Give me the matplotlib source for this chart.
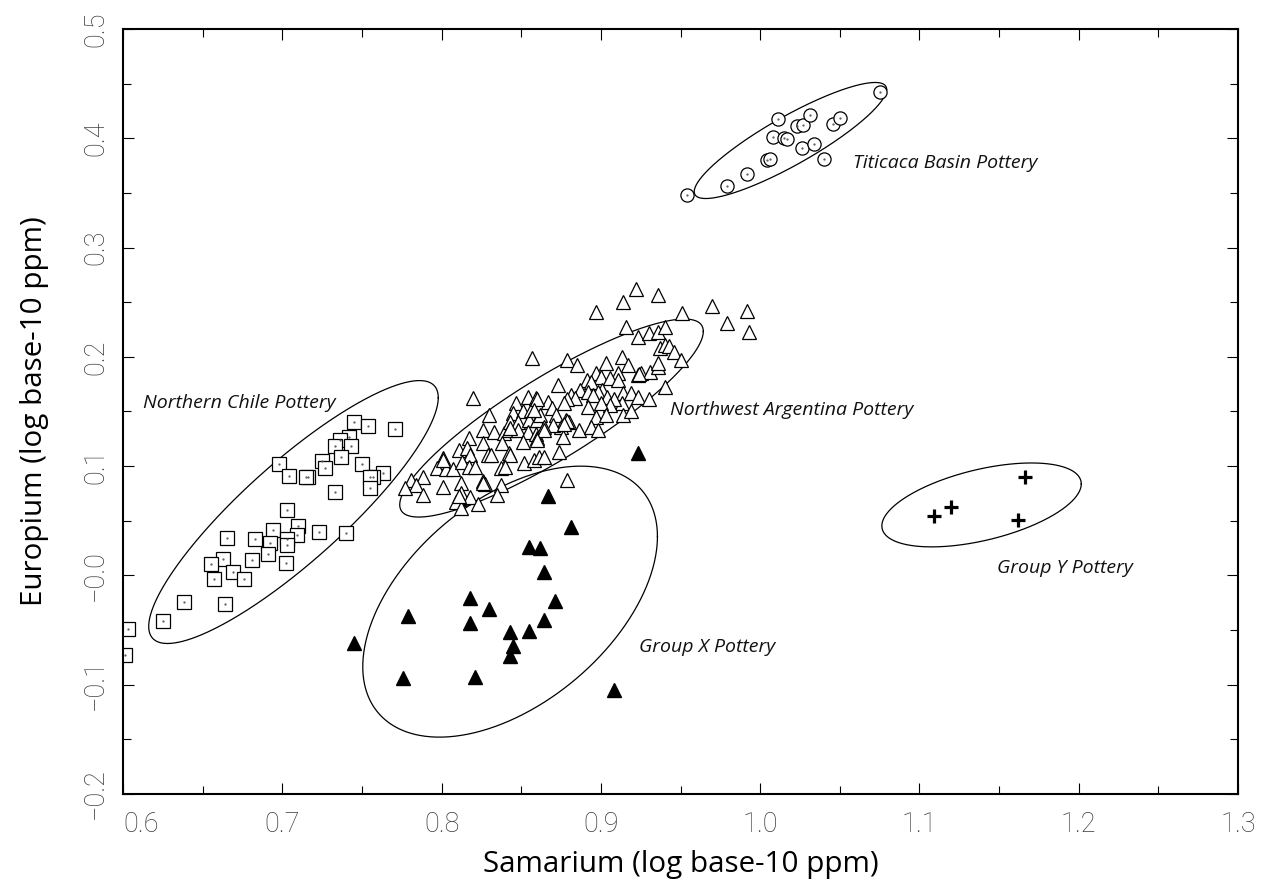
import numpy as np
import matplotlib.pyplot as plt
from matplotlib.ticker import FixedLocator, FixedFormatter, MultipleLocator

# Samarium vs europium (log10 ppm) for each ceramic compositional group

chile_sm = [0.745, 0.754, 0.771, 0.742, 0.736, 0.743, 0.733, 0.737, 0.698, 0.725,
            0.727, 0.750, 0.763, 0.757, 0.755, 0.704, 0.716, 0.715, 0.755, 0.733,
            0.703, 0.710, 0.709, 0.694, 0.683, 0.703, 0.703, 0.692, 0.723, 0.740,
            0.665, 0.663, 0.681, 0.655, 0.691, 0.702, 0.669, 0.676, 0.657, 0.638,
            0.664, 0.625, 0.603, 0.601]
chile_eu = [0.140, 0.137, 0.134, 0.127, 0.124, 0.118, 0.118, 0.108, 0.102, 0.105,
            0.098, 0.102, 0.094, 0.090, 0.090, 0.091, 0.090, 0.090, 0.080, 0.076,
            0.060, 0.045, 0.037, 0.042, 0.033, 0.033, 0.028, 0.030, 0.040, 0.039,
            0.034, 0.015, 0.014, 0.010, 0.020, 0.011, 0.003, -0.003, -0.003, -0.024,
            -0.026, -0.042, -0.049, -0.073]

argentina_sm = [0.820, 0.830, 0.817, 0.826, 0.833, 0.839, 0.847, 0.854, 0.859, 0.845,
                0.851, 0.856, 0.843, 0.848, 0.855, 0.860, 0.842, 0.848, 0.854, 0.859,
                0.851, 0.860, 0.826, 0.838, 0.842, 0.843, 0.829, 0.831, 0.811, 0.816,
                0.818, 0.801, 0.801, 0.797, 0.803, 0.807, 0.813, 0.817, 0.821, 0.837,
                0.840, 0.852, 0.858, 0.826, 0.827, 0.837, 0.812, 0.801, 0.788, 0.781,
                0.784, 0.777, 0.788, 0.812, 0.811, 0.809, 0.818, 0.835, 0.823, 0.812,
                0.916, 0.923, 0.930, 0.936, 0.857, 0.879, 0.885, 0.913, 0.903, 0.917,
                0.911, 0.923, 0.925, 0.931, 0.936, 0.897, 0.900, 0.891, 0.894, 0.906,
                0.911, 0.873, 0.901, 0.898, 0.904, 0.887, 0.892, 0.895, 0.881, 0.884,
                0.914, 0.919, 0.923, 0.930, 0.913, 0.908, 0.906, 0.900, 0.879, 0.877,
                0.867, 0.860, 0.869, 0.872, 0.862, 0.858, 0.892, 0.897, 0.903, 0.914,
                0.919, 0.878, 0.880, 0.875, 0.876, 0.886, 0.894, 0.898, 0.870, 0.864,
                0.864, 0.860, 0.874, 0.861, 0.864, 0.937, 0.936, 0.936, 0.951, 0.970,
                0.992, 0.979, 0.993, 0.940, 0.940, 0.943, 0.946, 0.950, 0.940, 0.922,
                0.914, 0.897, 0.879, 0.879, 0.877, 0.924, 0.801, 0.826, 0.843, 0.811]
argentina_eu = [0.162, 0.147, 0.126, 0.133, 0.131, 0.130, 0.158, 0.163, 0.162, 0.149,
                0.150, 0.151, 0.140, 0.140, 0.142, 0.142, 0.133, 0.133, 0.131, 0.129,
                0.122, 0.126, 0.121, 0.121, 0.112, 0.110, 0.110, 0.110, 0.115, 0.117,
                0.110, 0.107, 0.104, 0.098, 0.097, 0.097, 0.104, 0.099, 0.099, 0.098,
                0.099, 0.103, 0.106, 0.086, 0.084, 0.083, 0.085, 0.081, 0.090, 0.087,
                0.083, 0.080, 0.074, 0.075, 0.071, 0.067, 0.072, 0.074, 0.065, 0.062,
                0.227, 0.218, 0.222, 0.223, 0.199, 0.197, 0.193, 0.200, 0.194, 0.193,
                0.185, 0.183, 0.185, 0.186, 0.191, 0.185, 0.182, 0.179, 0.177, 0.181,
                0.179, 0.174, 0.170, 0.168, 0.163, 0.170, 0.168, 0.165, 0.165, 0.162,
                0.167, 0.167, 0.163, 0.161, 0.158, 0.161, 0.156, 0.158, 0.161, 0.158,
                0.159, 0.161, 0.153, 0.147, 0.147, 0.151, 0.154, 0.145, 0.147, 0.147,
                0.150, 0.142, 0.140, 0.136, 0.127, 0.133, 0.136, 0.133, 0.138, 0.136,
                0.133, 0.124, 0.113, 0.108, 0.108, 0.208, 0.194, 0.257, 0.240, 0.247,
                0.242, 0.231, 0.223, 0.227, 0.211, 0.210, 0.204, 0.197, 0.172, 0.262,
                0.250, 0.241, 0.087, 0.141, 0.139, 0.184, 0.106, 0.085, 0.135, 0.073]

titicaca_sm = [0.954, 0.979, 0.992, 1.004, 1.006, 1.008, 1.011, 1.015, 1.017, 1.023,
               1.027, 1.031, 1.026, 1.034, 1.040, 1.046, 1.050, 1.075]
titicaca_eu = [0.348, 0.356, 0.367, 0.380, 0.381, 0.401, 0.418, 0.400, 0.399, 0.411,
               0.412, 0.421, 0.391, 0.395, 0.381, 0.413, 0.419, 0.442]

group_x_sm = [0.923, 0.867, 0.881, 0.855, 0.862, 0.864, 0.871, 0.818, 0.830, 0.779,
              0.818, 0.864, 0.843, 0.855, 0.845, 0.843, 0.776, 0.821, 0.908, 0.745]
group_x_eu = [0.112, 0.073, 0.044, 0.026, 0.025, 0.003, -0.023, -0.021, -0.031, -0.037,
              -0.044, -0.041, -0.052, -0.051, -0.065, -0.074, -0.094, -0.093, -0.105, -0.062]

group_y_sm = [1.109, 1.120, 1.166, 1.162]
group_y_eu = [0.054, 0.063, 0.090, 0.051]

# Group ellipses: centre, half extent in x and y, and Sm-Eu correlation
ell_names = ["Northern Chile", "Northwest Argentina", "Titicaca Basin", "Group X", "Group Y"]
ell_cx = [0.707, 0.869, 1.019, 0.843, 1.139]
ell_cy = [0.058, 0.144, 0.398, -0.024, 0.0645]
ell_hx = [0.0909, 0.0953, 0.0604, 0.0925, 0.0626]
ell_hy = [0.1203, 0.0906, 0.0531, 0.1240, 0.0384]
ell_rho = [0.87, 0.875, 0.88, 0.48, 0.50]

x_ticks = [0.6, 0.7, 0.8, 0.9, 1.0, 1.1, 1.2, 1.3]
x_labels = ["0.6", "0.7", "0.8", "0.9", "1.0", "1.1", "1.2", "1.3"]
y_ticks = [-0.2, -0.1, 0.0, 0.1, 0.2, 0.3, 0.4, 0.5]
y_labels = ["\u22120.2", "\u22120.1", "\u22120.0", "0.1", "0.2", "0.3", "0.4", "0.5"]


def ellipse_path(cx, cy, hx, hy, rho, n=400):
    t = np.linspace(0, 2 * np.pi, n)
    x = cx + hx * np.cos(t)
    y = cy + hy * (rho * np.cos(t) + np.sqrt(1 - rho ** 2) * np.sin(t))
    return x, y


fig = plt.figure(figsize=(12.7, 8.88), dpi=100)
ax = fig.add_axes([0.0969, 0.1059, 0.8779, 0.8614])

for cx, cy, hx, hy, rho in zip(ell_cx, ell_cy, ell_hx, ell_hy, ell_rho):
    ex, ey = ellipse_path(cx, cy, hx, hy, rho)
    ax.plot(ex, ey, color="black", linewidth=0.9)

open_kw = dict(linestyle="none", markerfacecolor="white", markeredgecolor="black",
               markeredgewidth=0.9)
ax.plot(chile_sm, chile_eu, marker="s", markersize=10.5, **open_kw)
ax.plot(argentina_sm, argentina_eu, marker="^", markersize=10.3, **open_kw)
ax.plot(titicaca_sm, titicaca_eu, marker="o", markersize=9.5, **open_kw)
# small centre dots on the open symbols
for xs, ys in [(chile_sm, chile_eu), (titicaca_sm, titicaca_eu)]:
    ax.plot(xs, ys, linestyle="none", marker=".", markersize=1.2, color="#555555")
ax.plot(group_x_sm, group_x_eu, linestyle="none", marker="^", markersize=10,
        color="black")
ax.plot(group_y_sm, group_y_eu, linestyle="none", marker="+", markersize=10,
        markeredgewidth=2.3, color="black")

label_kw = dict(family="Open Sans", style="italic", fontsize=14, color="#111111",
                va="baseline")
ax.text(1.0585, 0.3728, "Titicaca Basin Pottery", **label_kw)
ax.text(0.6126, 0.1533, "Northern Chile Pottery", **label_kw)
ax.text(0.9434, 0.1468, "Northwest Argentina Pottery", **label_kw)
ax.text(0.924, -0.0700, "Group X Pottery", **label_kw)
ax.text(1.149, 0.0023, "Group Y Pottery", **label_kw)

ax.set_xlim(0.6, 1.3)
ax.set_ylim(-0.2, 0.5)
ax.xaxis.set_major_locator(FixedLocator(x_ticks))
ax.xaxis.set_major_formatter(FixedFormatter(x_labels))
ax.yaxis.set_major_locator(FixedLocator(y_ticks))
ax.yaxis.set_major_formatter(FixedFormatter(y_labels))
ax.xaxis.set_minor_locator(MultipleLocator(0.05))
ax.yaxis.set_minor_locator(MultipleLocator(0.05))
ax.tick_params(which="both", direction="in", top=True, right=True, width=0.8)
ax.tick_params(which="major", length=8)
ax.tick_params(which="minor", length=5.5)
ax.tick_params(axis="x", which="major", pad=12)
ax.tick_params(axis="y", which="major", pad=10)
for lab in ax.get_xticklabels() + ax.get_yticklabels():
    lab.set_family("Roboto")
    lab.set_fontweight("light")
    lab.set_fontsize(19.5)
    lab.set_color("#3a3a3a")
for lab in ax.get_yticklabels():
    lab.set_rotation(90)
    lab.set_va("center")
ax.get_xticklabels()[0].set_ha("left")
for side in ax.spines.values():
    side.set_linewidth(1.5)

ax.set_xlabel("Samarium (log base-10 ppm)", family="Open Sans", fontsize=21.3, labelpad=9)
ax.set_ylabel("Europium (log base-10 ppm)", family="Open Sans", fontsize=21.3, labelpad=24)

fig.savefig("out.png", dpi=100)
